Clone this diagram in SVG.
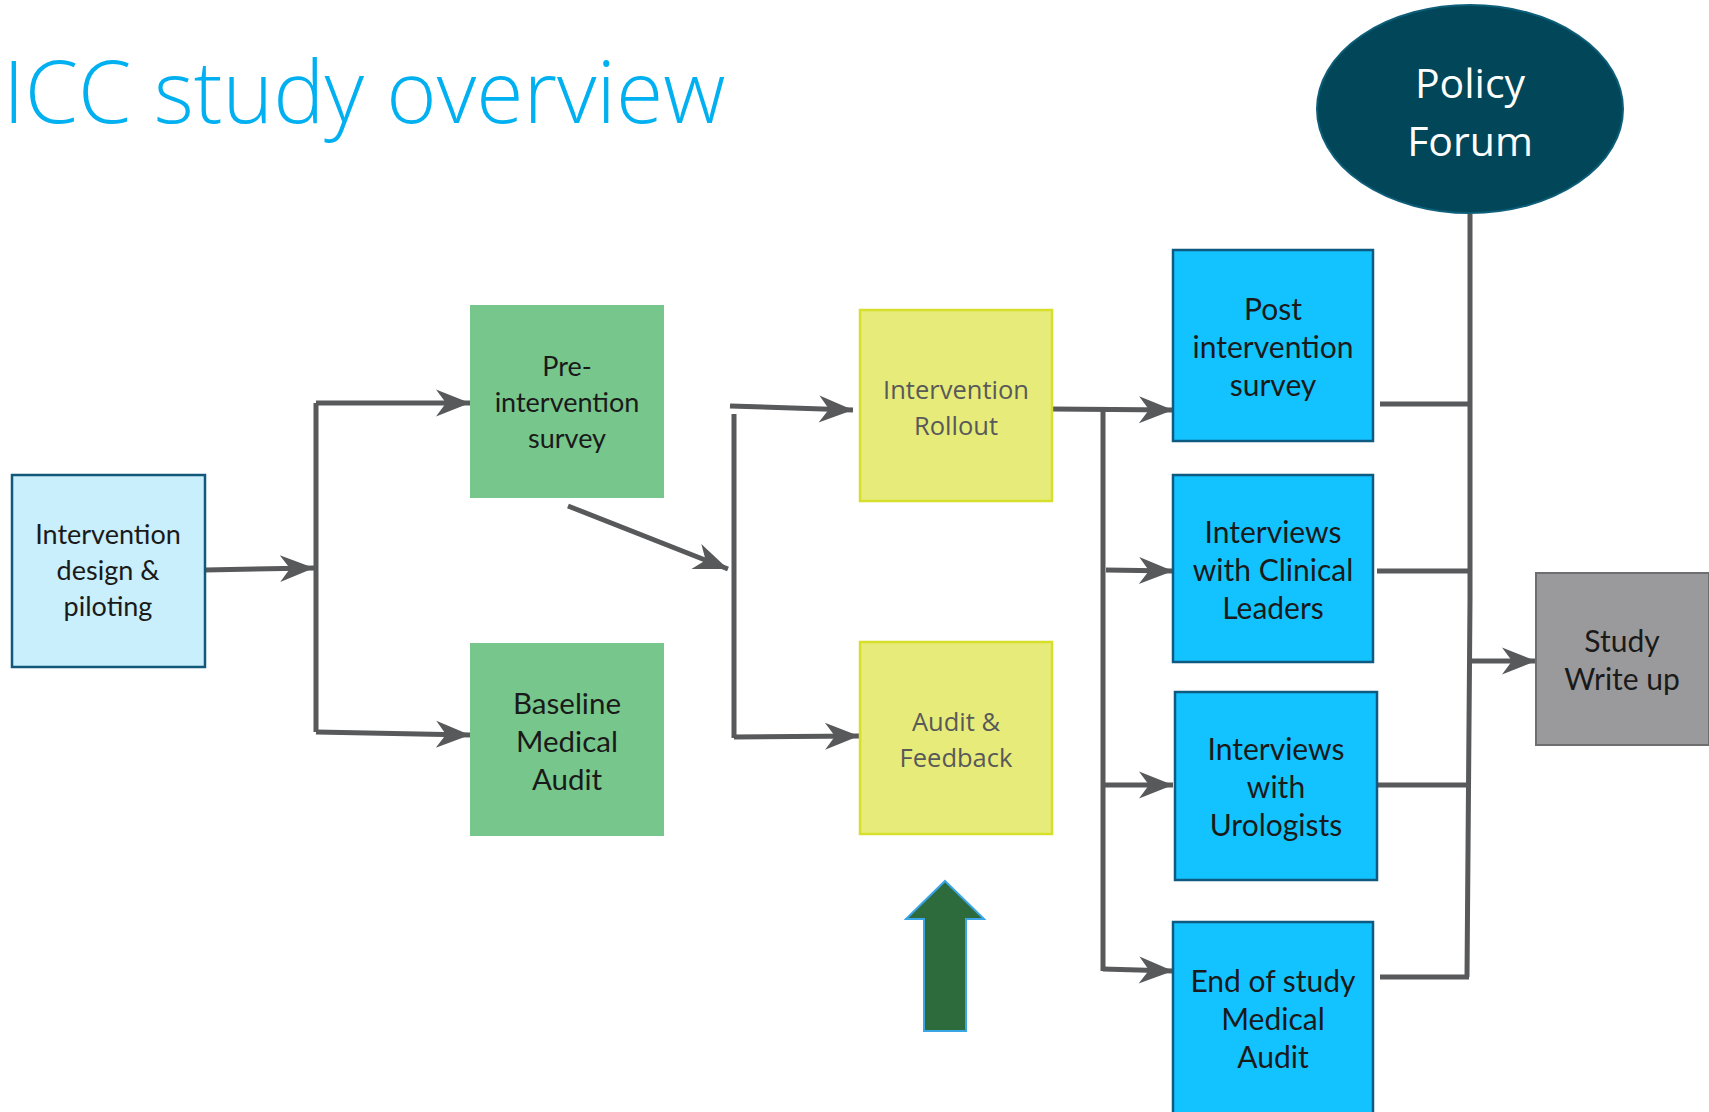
<svg xmlns="http://www.w3.org/2000/svg" width="1709" height="1112" viewBox="0 0 1709 1112">
<defs>
<marker id="arr" viewBox="-35 -15 37 30" markerWidth="37" markerHeight="30" refX="0" refY="0" orient="auto" markerUnits="userSpaceOnUse">
<path d="M0,0 L-34,-13.5 L-24,0 L-34,13.5 Z" fill="#58595B"/>
</marker>
<style>
.lbl{font-family:Lato,"Open Sans","Liberation Sans",sans-serif;text-anchor:middle;fill:#1a1a1a}
.ylbl{font-family:"Open Sans","Liberation Sans",sans-serif;text-anchor:middle;fill:#595959;font-size:25.5px}
.con{fill:none;stroke:#58595B;stroke-width:5}
.arrow{marker-end:url(#arr)}
.blue{fill:#12C3FF;stroke:#0F5A80;stroke-width:2.5}
.green{fill:#77C68C}
.yellow{fill:#E6EB7A;stroke:#D6E02C;stroke-width:2.5}
</style>
</defs>
<rect width="1709" height="1112" fill="#ffffff"/>
<text x="3" y="123" font-family="'Open Sans','Liberation Sans',sans-serif" font-weight="300" font-size="86" fill="#00B0F0">ICC study overview</text>

<g id="connectors">
<path class="con arrow" d="M205,570 L314,568"/>
<path class="con" d="M316,403 L316,732"/>
<path class="con arrow" d="M316,403 L470,403"/>
<path class="con arrow" d="M316,732 L470,735"/>
<path class="con arrow" d="M568,506 L728,569"/>
<path class="con" d="M734,414 L734,738"/>
<path class="con arrow" d="M730,406 L853,410"/>
<path class="con arrow" d="M734,737 L859,736"/>
<path class="con arrow" d="M1052,409 L1173,410"/>
<path class="con" d="M1103,409 L1103,971"/>
<path class="con arrow" d="M1106,570 L1173,571"/>
<path class="con arrow" d="M1103,785 L1173,785"/>
<path class="con arrow" d="M1103,969 L1173,971"/>
<path class="con" d="M1470,214 L1470,600 L1467,977"/>
<path class="con" d="M1380,404 L1468,404"/>
<path class="con" d="M1377,571 L1468,571"/>
<path class="con" d="M1377,785 L1468,785"/>
<path class="con" d="M1380,977 L1469,977"/>
<path class="con arrow" d="M1469,661 L1536,661"/>
</g>

<g id="policy-forum">
<ellipse cx="1470" cy="109" rx="153" ry="104" fill="#024659" stroke="#0D5E78" stroke-width="2"/>
<text x="1470" y="98" font-family="'Open Sans','Liberation Sans',sans-serif" font-size="41" fill="#ffffff" text-anchor="middle">Policy</text>
<text x="1470" y="156" font-family="'Open Sans','Liberation Sans',sans-serif" font-size="41" fill="#ffffff" text-anchor="middle">Forum</text>
</g>

<g id="design">
<rect x="12" y="475" width="193" height="192" fill="#C9EEFC" stroke="#12587A" stroke-width="2.5"/>
<text class="lbl" font-size="27" x="108" y="544">Intervention</text>
<text class="lbl" font-size="27" x="108" y="580">design &amp;</text>
<text class="lbl" font-size="27" x="108" y="616">piloting</text>
</g>

<g id="pre-survey">
<rect class="green" x="470" y="305" width="194" height="193"/>
<text class="lbl" font-size="27" x="567" y="376">Pre-</text>
<text class="lbl" font-size="27" x="567" y="412">intervention</text>
<text class="lbl" font-size="27" x="567" y="448">survey</text>
</g>

<g id="baseline-audit">
<rect class="green" x="470" y="643" width="194" height="193"/>
<text class="lbl" font-size="29.5" x="567" y="714">Baseline</text>
<text class="lbl" font-size="29.5" x="567" y="752">Medical</text>
<text class="lbl" font-size="29.5" x="567" y="790">Audit</text>
</g>

<g id="rollout">
<rect class="yellow" x="860" y="310" width="192" height="191"/>
<text class="ylbl" x="956" y="399">Intervention</text>
<text class="ylbl" x="956" y="435">Rollout</text>
</g>

<g id="audit-feedback">
<rect class="yellow" x="860" y="642" width="192" height="192"/>
<text class="ylbl" x="956" y="731">Audit &amp;</text>
<text class="ylbl" x="956" y="767">Feedback</text>
</g>

<g id="post-survey">
<rect class="blue" x="1173" y="250" width="200" height="191"/>
<text class="lbl" font-size="30" x="1273" y="320">Post</text>
<text class="lbl" font-size="30" x="1273" y="358">intervention</text>
<text class="lbl" font-size="30" x="1273" y="396">survey</text>
</g>

<g id="clinical-leaders">
<rect class="blue" x="1173" y="475" width="200" height="187"/>
<text class="lbl" font-size="30" x="1273" y="543">Interviews</text>
<text class="lbl" font-size="30" x="1273" y="581">with Clinical</text>
<text class="lbl" font-size="30" x="1273" y="619">Leaders</text>
</g>

<g id="urologists">
<rect class="blue" x="1175" y="692" width="202" height="188"/>
<text class="lbl" font-size="30" x="1276" y="760">Interviews</text>
<text class="lbl" font-size="30" x="1276" y="798">with</text>
<text class="lbl" font-size="30" x="1276" y="836">Urologists</text>
</g>

<g id="end-audit">
<rect class="blue" x="1173" y="922" width="200" height="200"/>
<text class="lbl" font-size="30" x="1273" y="992">End of study</text>
<text class="lbl" font-size="30" x="1273" y="1030">Medical</text>
<text class="lbl" font-size="30" x="1273" y="1068">Audit</text>
</g>

<g id="write-up">
<rect x="1536" y="573" width="173" height="172" fill="#9A9A9C" stroke="#6E6E70" stroke-width="2"/>
<text class="lbl" font-size="30" x="1622" y="652">Study</text>
<text class="lbl" font-size="30" x="1622" y="690">Write up</text>
</g>

<g id="green-arrow">
<path d="M945,881 L984,919 L966,919 L966,1031 L924,1031 L924,919 L906,919 Z" fill="#2E6B3C" stroke="#3AA6E6" stroke-width="2"/>
</g>
</svg>
